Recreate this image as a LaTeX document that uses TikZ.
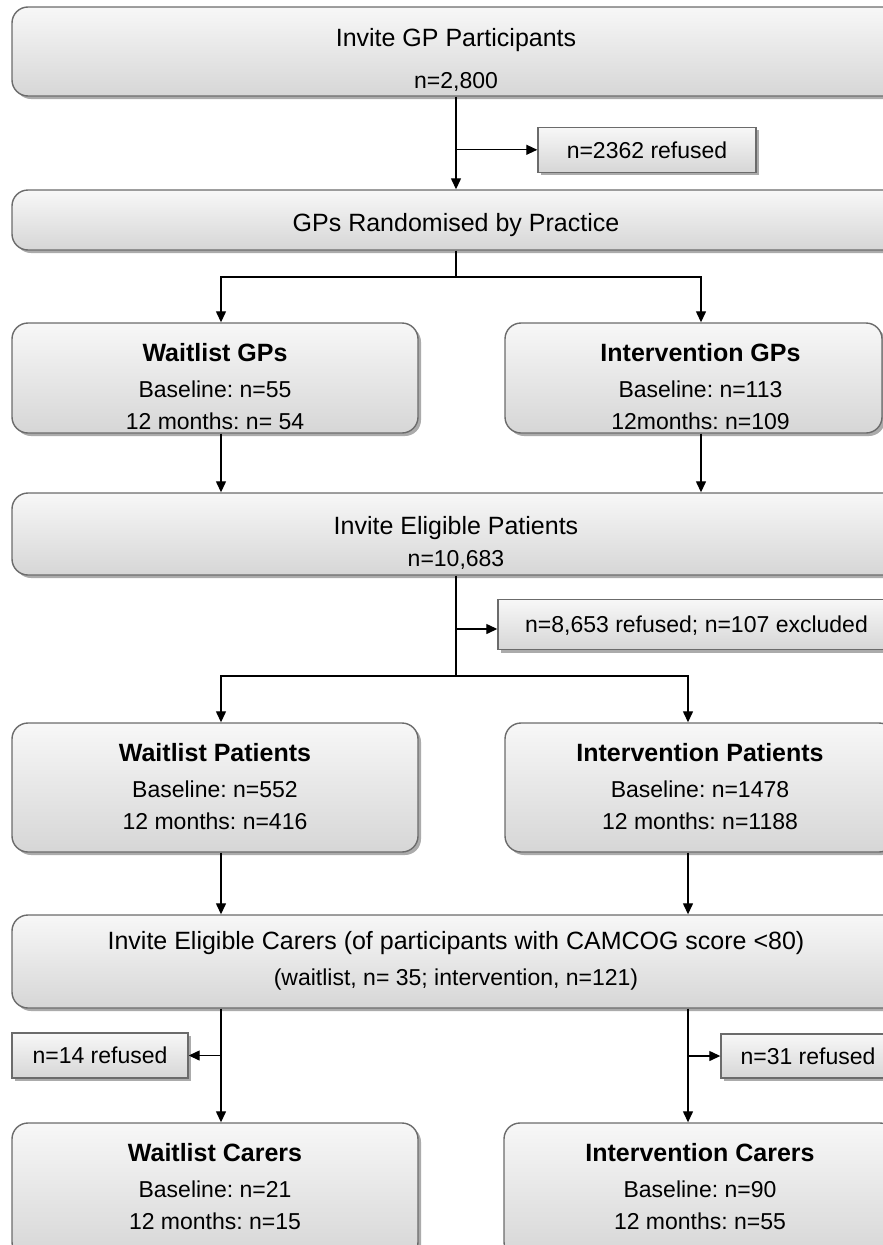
\documentclass[tikz,border=0pt]{standalone}
\usepackage{fontspec}
\setmainfont{Liberation Sans}
\usetikzlibrary{shapes,arrows.meta,positioning,calc,shadows}
\frenchspacing

\begin{document}
\begin{tikzpicture}[x=1pt, y=-1pt,
    box/.style={draw=black!58, line width=1.4pt, rounded corners=16pt, top color=black!3, bottom color=black!16,
        drop shadow={shadow xshift=3pt, shadow yshift=-3pt, fill=black!60, opacity=0.55}, inner sep=0pt},
    refbox/.style={box, rounded corners=0pt, font=\fontsize{23}{28}\selectfont, text height=16.5pt, text depth=0pt},
    txt/.style={align=center, inner sep=0pt, font=\fontsize{23}{32.5}\selectfont},
    ttl/.style={font=\fontsize{25}{33}\selectfont},
    arr/.style={line width=1.3pt, -{Triangle[length=11pt, width=10pt]}},
    conn/.style={line width=1.3pt}]

\useasboundingbox (0,0) rectangle (883,1245);
\clip (0,0) rectangle (883,1245);

% arrow columns
\coordinate (colL) at (221,0);
\coordinate (colGP) at (701,0);
\coordinate (colR) at (688,0);

% GP stage
\node[box, minimum width=888pt, minimum height=89pt] (gpinv) at (456,51.5) {};
\node[txt, ttl, below=21.4pt of gpinv.north] (gpinvtxt) {Invite GP Participants\\[9pt]{\fontsize{23}{33}\selectfont n=2,800}};
\node[refbox, minimum width=218pt, minimum height=45pt] (ref1) at (647,149.8) {n=2362 refused};
\node[box, minimum width=888pt, minimum height=60pt] (gprand) at (456,220) {};
\node[txt, ttl, below=23.4pt of gprand.north] (gprandtxt) {GPs Randomised by Practice};

\node[box, minimum width=406pt, minimum height=110pt] (wlgp) at (215,378) {};
\node[txt, below=21pt of wlgp.north] (wlgptxt) {{\bfseries\fontsize{25}{33}\selectfont Waitlist GPs}\\[3pt]Baseline: n=55\\12 months: n= 54};
\node[box, minimum width=377pt, minimum height=110pt] (ingp) at (693.5,378) {};
\node[txt, below=21pt of ingp.north, xshift=7pt] (ingptxt) {{\bfseries\fontsize{25}{33}\selectfont Intervention GPs}\\[3pt]Baseline: n=113\\12months: n=109};

% patient stage
\node[box, minimum width=888pt, minimum height=82pt] (elig) at (456,534) {};
\node[txt, ttl, below=23.7pt of elig.north] (eligtxt) {Invite Eligible Patients\\[-1.3pt]{\fontsize{23}{33}\selectfont n=10,683}};
\node[refbox, minimum width=397pt, minimum height=50pt] (ref2) at (696.5,624.7) {n=8,653 refused; n=107 excluded};

\node[box, minimum width=406pt, minimum height=129pt] (wlpt) at (215,787.5) {};
\node[txt, below=21pt of wlpt.north] (wlpttxt) {{\bfseries\fontsize{25}{33}\selectfont Waitlist Patients}\\[3pt]Baseline: n=552\\12 months: n=416};
\node[box, minimum width=390pt, minimum height=129pt] (inpt) at (700,787.5) {};
\node[txt, below=21pt of inpt.north] (inpttxt) {{\bfseries\fontsize{25}{33}\selectfont Intervention Patients}\\[3pt]Baseline: n=1478\\12 months: n=1188};

% carer stage
\node[box, minimum width=888pt, minimum height=93pt] (carinv) at (456,961.5) {};
\node[txt, ttl, below=16.7pt of carinv.north] (carinvtxt) {Invite Eligible Carers (of participants with CAMCOG score <80)\\[3pt]{\fontsize{23}{33}\selectfont (waitlist, n= 35; intervention, n=121)}};
\node[refbox, minimum width=176pt, minimum height=45pt] (ref3) at (100,1055.5) {n=14 refused};
\node[refbox, minimum width=174pt, minimum height=44pt] (ref4) at (808,1056) {n=31 refused};

\node[box, minimum width=406pt, minimum height=135pt] (wlcar) at (215,1190.5) {};
\node[txt, below=21pt of wlcar.north] (wlcartxt) {{\bfseries\fontsize{25}{33}\selectfont Waitlist Carers}\\[3pt]Baseline: n=21\\12 months: n=15};
\node[box, minimum width=392pt, minimum height=135pt] (incar) at (700,1190.5) {};
\node[txt, below=21pt of incar.north] (incartxt) {{\bfseries\fontsize{25}{33}\selectfont Intervention Carers}\\[3pt]Baseline: n=90\\12 months: n=55};

% connectors
\coordinate (gpsplit) at (456,277);
\coordinate (ptsplit) at (456,676);
\coordinate (j2) at (456,629);

\draw[arr] (gpinv.south) -- (gprand.north);
\draw[arr] (gpinv.south |- ref1.west) -- (ref1.west);
\draw[conn] (gprand.south) -- (gpsplit);
\draw[arr] (gpsplit) -| (wlgp.north -| colL);
\draw[arr] (gpsplit) -| (ingp.north -| colGP);
\draw[arr] (wlgp.south -| colL) -- (elig.north -| colL);
\draw[arr] (ingp.south -| colGP) -- (elig.north -| colGP);

\draw[conn] (elig.south) -- (ptsplit);
\draw[arr] (j2) -- (j2 -| ref2.west);
\draw[arr] (ptsplit) -| (wlpt.north -| colL);
\draw[arr] (ptsplit) -| (inpt.north -| colR);
\draw[arr] (wlpt.south -| colL) -- (carinv.north -| colL);
\draw[arr] (inpt.south -| colR) -- (carinv.north -| colR);

\draw[arr] (carinv.south -| colL) -- (wlcar.north -| colL);
\draw[arr] (colL |- ref3.east) -- (ref3.east);
\draw[arr] (carinv.south -| colR) -- (incar.north -| colR);
\draw[arr] (colR |- ref4.west) -- (ref4.west);
\end{tikzpicture}
\end{document}
